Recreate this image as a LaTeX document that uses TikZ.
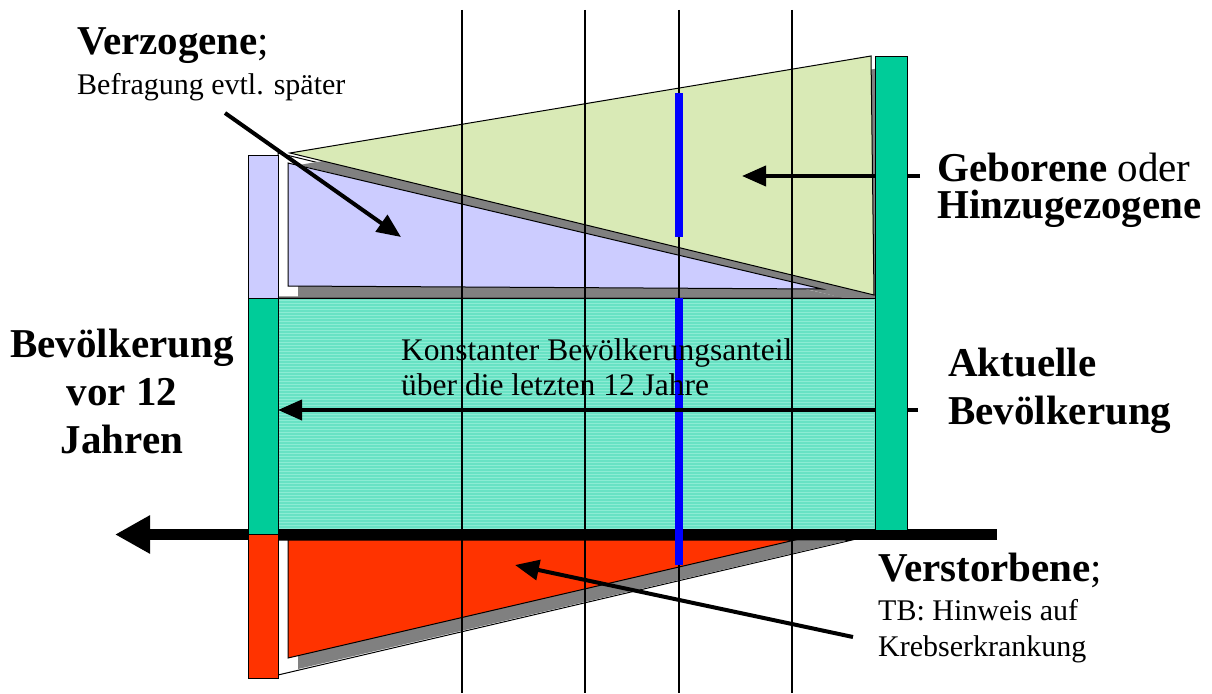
\documentclass[tikz,border=0pt]{standalone}
\usepackage{fontspec}
\setmainfont{Liberation Serif}
\usetikzlibrary{arrows.meta}
\definecolor{lavender}{RGB}{204,204,255}
\definecolor{barGreen}{RGB}{0,204,153}
\definecolor{paleGreen}{RGB}{217,234,182}
\definecolor{turq}{RGB}{104,226,196}
\definecolor{turqLight}{RGB}{140,236,212}
\definecolor{redOrange}{RGB}{255,51,0}
\definecolor{shadowGray}{RGB}{128,128,128}
\tikzset{
  barbox/.style={draw=black, line width=1pt},
  tri/.style={draw=black, line width=1pt},
  gridline/.style={line width=1.3pt},
  pointer/.style={line width=4pt, -{Triangle[length=24pt,width=20pt]}},
  bigtext/.style={anchor=base west, font=\fontsize{41}{48}\selectfont},
  smalltext/.style={anchor=base west, font=\fontsize{30}{36}\selectfont}
}
\begin{document}
\begin{tikzpicture}[x=1pt, y=-1pt, every node/.style={inner sep=0pt}]
  \useasboundingbox (0,0) rectangle (1212,693);

  % white backing triangles
  \draw[tri, fill=white] (278,153) -- (875,297) -- (278,297) -- cycle;
  \draw[tri, fill=white] (278,540) -- (852,540) -- (278,675) -- cycle;

  % born / moved in
  \fill[shadowGray] (299,165) -- (880,68) -- (884,308) -- cycle;
  \draw[tri, fill=paleGreen] (290,153) -- (871,56) -- (874,295) -- cycle;

  % moved away
  \fill[shadowGray] (298,173) -- (840,297) -- (298,297) -- cycle;
  \draw[tri, fill=lavender] (288,163) -- (822,289) -- (288,286) -- cycle;

  % deceased
  \fill[shadowGray] (298,541) -- (846,541) -- (298,669) -- cycle;
  \draw[tri, fill=redOrange] (288,540) -- (795,540) -- (288,658) -- cycle;

  % constant share
  \fill[turq] (278,298) rectangle (875,530);
  \foreach \yy in {300,303,...,528}
    \draw[turqLight, line width=1pt] (279,\yy) -- (874,\yy);
  \draw[line width=1pt] (278,298) rectangle (875,530);

  % time axis
  \coordinate (axisR) at (997,534.5);
  \coordinate (axisL) at (115,534.5);
  \draw[line width=11pt, -{Triangle[length=35pt,width=36pt]}] (axisR) -- (axisL);

  % year lines
  \foreach \xx in {462,585,679,792}
    \draw[gridline] (\xx,10) -- (\xx,693);

  % survey marks
  \fill[blue] (675,93) rectangle (683,237);
  \fill[blue] (675,298) rectangle (683,565);

  % pointers
  \coordinate (verzFrom) at (225,113);
  \coordinate (verzTip) at (401,237);
  \coordinate (gebFrom) at (920,176);
  \coordinate (gebTip) at (742,176);
  \coordinate (aktFrom) at (918,410);
  \coordinate (aktTip) at (278,410);
  \coordinate (verstFrom) at (853,637);
  \coordinate (verstTip) at (515,565);
  \draw[pointer] (verzFrom) -- (verzTip);
  \draw[pointer] (gebFrom) -- (gebTip);
  \draw[pointer] (aktFrom) -- (aktTip);
  \draw[pointer] (verstFrom) -- (verstTip);

  % population bars
  \draw[barbox, fill=lavender] (248,155) rectangle (278,298);
  \draw[barbox, fill=barGreen] (248,298) rectangle (278,534);
  \draw[barbox, fill=redOrange] (248,534) rectangle (278,678);
  \draw[barbox, fill=barGreen] (875,57) rectangle (907,530);

  % labels
  \node[bigtext] (verz) at (77,55) {\textbf{Verzogene};};
  \node[smalltext] (befr) at (77,94) {Befragung evtl. später};

  \node[bigtext] (geb) at (937,181) {\textbf{Geborene} oder};
  \node[bigtext] (hinz) at (937,218) {\textbf{Hinzugezogene}};

  \node[bigtext, anchor=base, font=\fontsize{41}{48}\bfseries] (vorA) at (122,357) {Bevölkerung};
  \node[bigtext, anchor=base, font=\fontsize{41}{48}\bfseries] (vorB) at (122,405) {vor 12};
  \node[bigtext, anchor=base, font=\fontsize{41}{48}\bfseries] (vorC) at (122,453) {Jahren};

  \node[smalltext, font=\fontsize{31.5}{36}\selectfont] (konA) at (401,360) {Konstanter Bevölkerungsanteil};
  \node[smalltext, font=\fontsize{31.5}{36}\selectfont] (konB) at (401,395) {über die letzten 12 Jahre};

  \node[bigtext] (aktA) at (948,376) {\textbf{Aktuelle}};
  \node[bigtext] (aktB) at (948,424) {\textbf{Bevölkerung}};

  \node[bigtext] (verst) at (878,581) {\textbf{Verstorbene};};
  \node[smalltext] (tb) at (878,620) {TB: Hinweis auf};
  \node[smalltext] (krebs) at (878,656) {Krebserkrankung};
\end{tikzpicture}
\end{document}
